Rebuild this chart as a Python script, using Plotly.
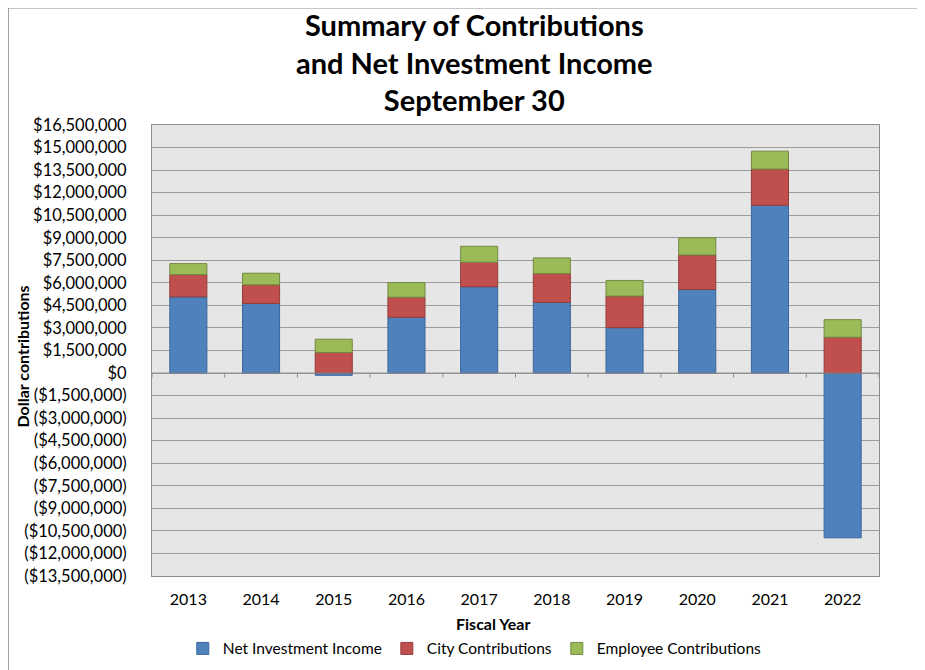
import plotly.graph_objects as go

years = ["2013", "2014", "2015", "2016", "2017", "2018", "2019", "2020", "2021", "2022"]
net_investment = [5.07e6, 4.63e6, -0.15e6, 3.71e6, 5.74e6, 4.70e6, 3.02e6, 5.56e6, 11.16e6, -10.96e6]
city_contrib = [1.48e6, 1.24e6, 1.37e6, 1.34e6, 1.63e6, 1.92e6, 2.10e6, 2.29e6, 2.41e6, 2.38e6]
employee_contrib = [0.73e6, 0.77e6, 0.88e6, 0.97e6, 1.06e6, 1.04e6, 1.04e6, 1.15e6, 1.19e6, 1.17e6]

tick_vals = [16.5e6 - 1.5e6 * i for i in range(21)]


def fmt(v):
    if v < 0:
        return "(${:,.0f})".format(-v)
    return "${:,.0f}".format(v)


tick_text = [fmt(v) for v in tick_vals]

FONT = "Lato, sans-serif"

fig = go.Figure()
series = [
    ("Net Investment Income", net_investment, "#4f81bd", "#3a679c"),
    ("City Contributions", city_contrib, "#c0504d", "#943c3a"),
    ("Employee Contributions", employee_contrib, "#9bbb59", "#71893f"),
]
for name, vals, col, edge in series:
    fig.add_trace(go.Bar(
        x=years, y=vals, name=name, width=0.51,
        marker=dict(color=col, line=dict(color=edge, width=1)),
    ))

shapes = []
# category boundary tick marks on the zero line
for i in range(len(years) + 1):
    shapes.append(dict(type="line", xref="x", yref="y", x0=i - 0.5, x1=i - 0.5,
                       y0=0, y1=-0.3e6, line=dict(color="#8c8c8c", width=1)))
shapes.append(dict(type="line", xref="x", yref="y", x0=-0.5, x1=len(years) - 0.5,
                   y0=0, y1=0, line=dict(color="#8c8c8c", width=1)))
# outer chart border (left and top)
shapes.append(dict(type="line", xref="paper", yref="paper", x0=-0.198, x1=-0.198,
                   y0=-0.3, y1=1.26, line=dict(color="#8c8c8c", width=1.5)))
shapes.append(dict(type="line", xref="paper", yref="paper", x0=-0.198, x1=1.1,
                   y0=1.26, y1=1.26, line=dict(color="#8c8c8c", width=1.5)))

annotations = [
    dict(text="<b>Summary of Contributions<br>and Net Investment Income<br>September 30</b>",
         xref="paper", yref="paper", x=0.444, y=1.1395, xanchor="center", yanchor="middle",
         showarrow=False, font=dict(family=FONT, size=29, color="black")),
    dict(text="<b>Fiscal Year</b>", xref="paper", yref="paper", x=0.469, y=-0.106,
         xanchor="center", yanchor="middle", showarrow=False,
         font=dict(family=FONT, size=16, color="black")),
    dict(text="<b>Dollar contributions</b>", xref="paper", yref="paper", x=-0.1788, y=0.4867,
         xanchor="center", yanchor="middle", showarrow=False, textangle=-90,
         font=dict(family=FONT, size=16, color="black")),
]

fig.update_layout(
    barmode="relative",
    width=925, height=670,
    margin=dict(l=144, r=54, t=117, b=100),
    paper_bgcolor="white",
    plot_bgcolor="#e6e6e6",
    font=dict(family=FONT, size=16, color="black"),
    xaxis=dict(
        showgrid=False, showline=True, mirror=True, linecolor="#8c8c8c", linewidth=1,
        ticks="outside", ticklen=9, tickcolor="rgba(0,0,0,0)", tickfont=dict(size=16),
        range=[-0.5, len(years) - 0.5], automargin=False,
    ),
    yaxis=dict(
        range=[-13.5e6, 16.5e6], tickvals=tick_vals, ticktext=tick_text,
        showgrid=True, gridcolor="#9c9c9c", gridwidth=1.2,
        showline=True, mirror=True, linecolor="#8c8c8c", linewidth=1,
        zeroline=False, ticks="outside", ticklen=21, tickcolor="rgba(0,0,0,0)",
        tickfont=dict(size=16.5), automargin=False,
    ),
    legend=dict(orientation="h", x=0.444, xanchor="center", y=-0.1615, yanchor="middle",
                font=dict(size=15.5), traceorder="normal", itemwidth=30),
    shapes=shapes,
    annotations=annotations,
)

fig.write_html("out.html")
